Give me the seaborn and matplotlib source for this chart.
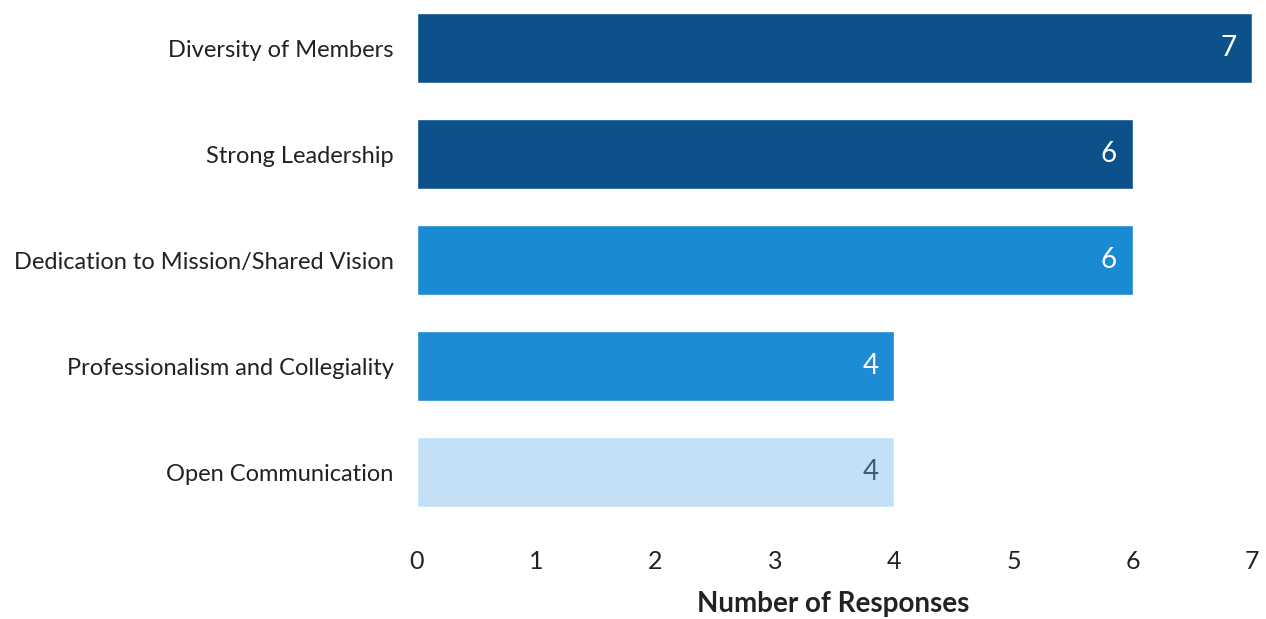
import matplotlib
matplotlib.use("Agg")
import matplotlib.pyplot as plt
import seaborn as sns
import pandas as pd

categories = ["Diversity of Members", "Strong Leadership", "Dedication to Mission/Shared Vision",
              "Professionalism and Collegiality", "Open Communication"]
values = [7, 6, 6, 4, 4]
colors = ["#0c5189", "#0c5189", "#1a8ad4", "#1d8bd6", "#c3e0f7"]
label_colors = ["white", "white", "white", "white", "#3e5c78"]
xticks = [0, 1, 2, 3, 4, 5, 6, 7]

sns.set_theme(style="white")
plt.rcParams["font.family"] = ["Lato", "DejaVu Sans"]

df = pd.DataFrame({"cat": categories, "val": values})
fig = plt.figure(figsize=(12.66, 6.19), dpi=100)
ax = fig.add_axes([417/1266, 94/619, 835/1266, 525/619])
sns.barplot(data=df, x="val", y="cat", hue="cat", palette=colors, orient="h",
            width=0.66, ax=ax, legend=False, saturation=1)

ax.set_xlim(0, 7)
ax.set_ylim(4.5, -0.453)
ax.set_xticks(xticks)
ax.tick_params(axis="x", labelsize=18, pad=18, length=0, colors="#222222")
ax.tick_params(axis="y", labelsize=17, pad=17, length=0, colors="#222222")
ax.set_ylabel("")
ax.set_xlabel("Number of Responses", fontsize=20, fontweight="bold", color="#222222")
ax.xaxis.set_label_coords(0.498, -0.125)
for s in ax.spines.values():
    s.set_visible(False)

for i, (v, c) in enumerate(zip(values, label_colors)):
    ax.text(v - 0.2, i, str(v), ha="center", va="center", color=c, fontsize=20)

fig.savefig("out.png", dpi=100)
